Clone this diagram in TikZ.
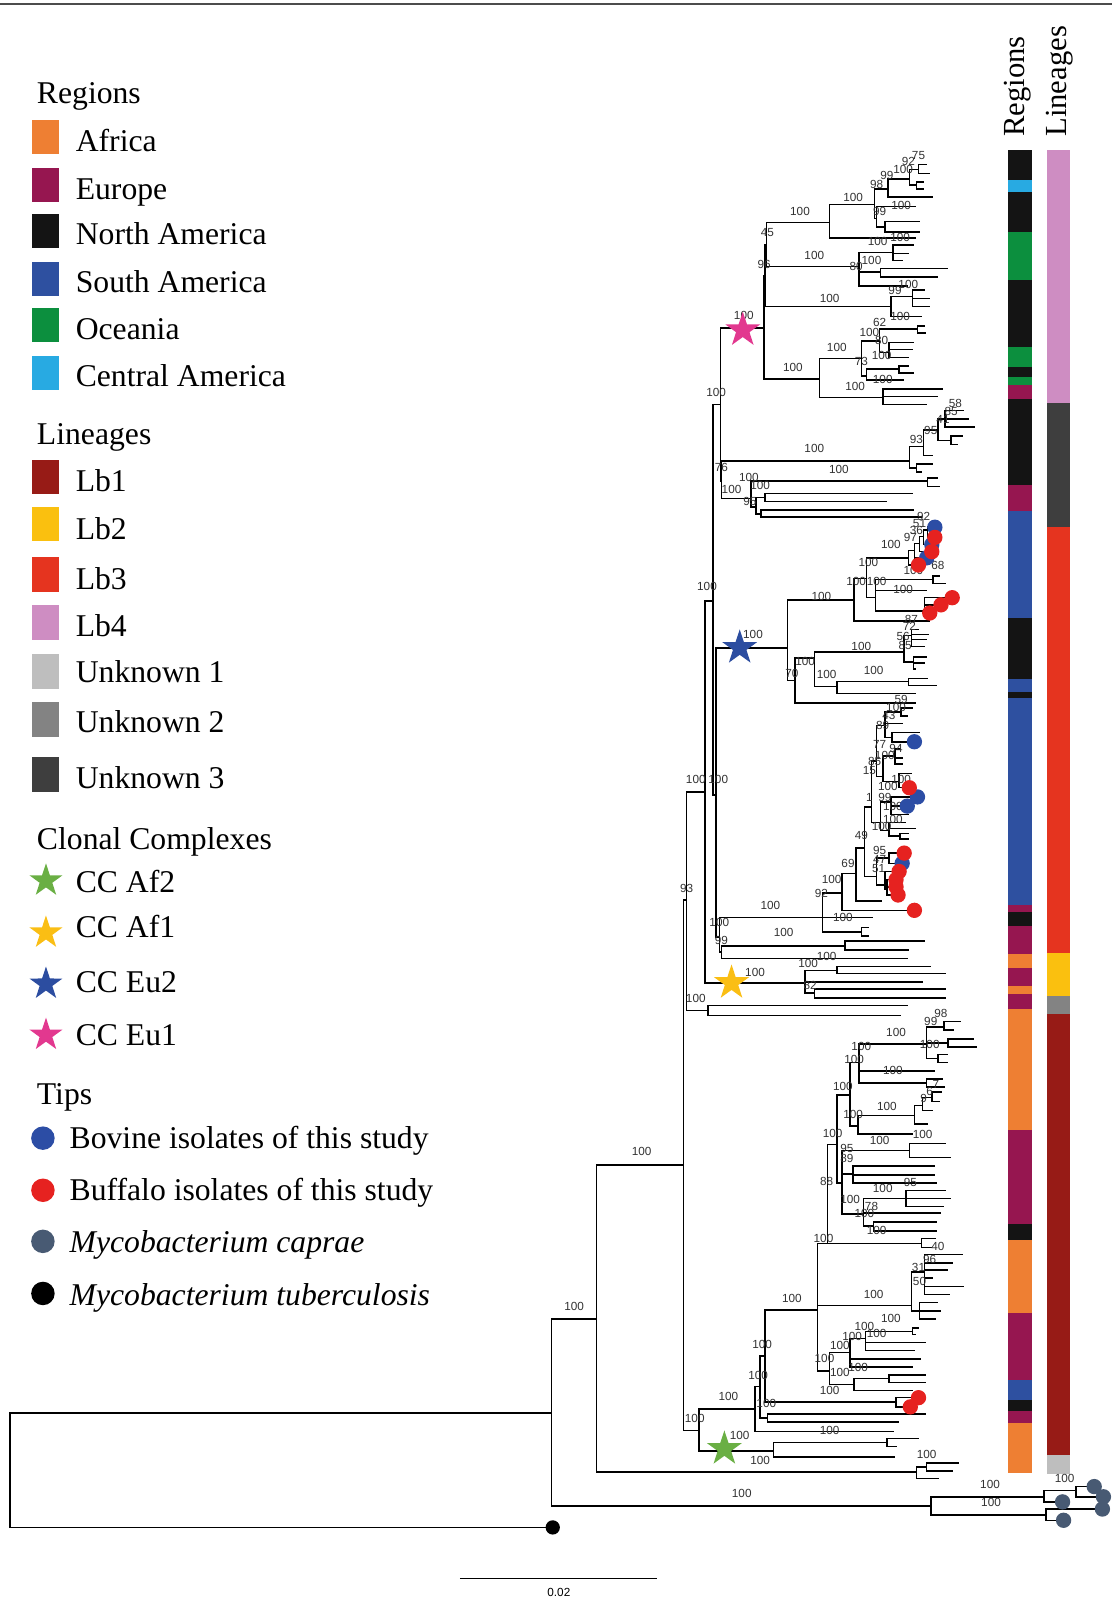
\documentclass[tikz,border=0pt]{standalone}
\usepackage{fontspec}
\setmainfont{Liberation Serif}
\setsansfont{Liberation Sans}
\usetikzlibrary{shapes.geometric}

\definecolor{afr}{RGB}{238,127,51}
\definecolor{eur}{RGB}{150,22,80}
\definecolor{nam}{RGB}{20,20,20}
\definecolor{sam}{RGB}{46,80,160}
\definecolor{oce}{RGB}{12,143,62}
\definecolor{cam}{RGB}{40,170,226}
\definecolor{lbone}{RGB}{151,27,22}
\definecolor{lbtwo}{RGB}{250,192,15}
\definecolor{lbthree}{RGB}{229,52,31}
\definecolor{lbfour}{RGB}{206,141,194}
\definecolor{unkone}{RGB}{190,190,190}
\definecolor{unktwo}{RGB}{131,131,131}
\definecolor{unkthree}{RGB}{62,62,62}
\definecolor{ccaftwo}{RGB}{106,175,68}
\definecolor{ccafone}{RGB}{250,190,20}
\definecolor{cceutwo}{RGB}{44,77,160}
\definecolor{cceuone}{RGB}{226,56,143}
\definecolor{bovine}{RGB}{44,77,165}
\definecolor{buffalo}{RGB}{230,34,32}
\definecolor{caprae}{RGB}{72,90,115}

\tikzset{
  branch/.style={line width=1.5pt},
  bs/.style={font=\sffamily\fontsize{11.5}{12}\selectfont, text=black!80, inner sep=0pt},
  lg/.style={font=\fontsize{31}{36}\selectfont, inner sep=0pt},
  bartitle/.style={font=\fontsize{30}{36}\selectfont, inner sep=0pt, rotate=90, anchor=base west},
  ccstar/.style={star, star points=5, star point ratio=2.6, inner sep=0pt, minimum size=#1},
  tipdot/.style={circle, inner sep=0pt, minimum size=#1},
}

\begin{document}
\begin{tikzpicture}[x=1pt,y=-1pt]
\useasboundingbox (0,0) rectangle (1088,1568);
\draw[black!70, line width=1.5pt] (0,4) -- (1088,4);

% legend
\node[lg, anchor=base west] (regtitle) at (36,101) {Regions};
\foreach \c/\y/\b/\t [count=\i] in {afr/134/148/Africa, eur/181/195/Europe,
    nam/226/239/North America, sam/273/286/South America, oce/318/332/Oceania,
    cam/365/378/Central America}
  { \fill[\c] (31,\y-17) rectangle (58,\y+17);
    \node[lg, anchor=base west] (reg\i) at (74,\b) {\t}; }
\node[lg, anchor=base west] (lintitle) at (36,435) {Lineages};
\foreach \c/\y/\b/\t [count=\i] in {lbone/467/481/Lb1, lbtwo/513/528/Lb2,
    lbthree/562/577/Lb3, lbfour/609/623/Lb4, unkone/657/668/Unknown 1,
    unktwo/704/717/Unknown 2, unkthree/758/772/Unknown 3}
  { \fill[\c] (31,\y-17) rectangle (58,\y+17);
    \node[lg, anchor=base west] (lin\i) at (74,\b) {\t}; }
\node[lg, anchor=base west] (cctitle) at (36,831) {Clonal Complexes};
\foreach \c/\y/\b/\t [count=\i] in {ccaftwo/862/874/CC Af2, ccafone/913/918/CC Af1,
    cceutwo/963/971/CC Eu2, cceuone/1013/1023/CC Eu1}
  { \node[ccstar=34pt, fill=\c] (ccs\i) at (45,\y) {};
    \node[lg, anchor=base west] (cc\i) at (74,\b) {\t}; }
\node[lg, anchor=base west] (tiptitle) at (36,1081) {Tips};
\node[tipdot=23pt, fill=bovine] (tipbov) at (42,1114) {};
\node[lg, anchor=base west] (bovtext) at (68,1124) {Bovine isolates of this study};
\node[tipdot=23pt, fill=buffalo] (tipbuf) at (42,1165) {};
\node[lg, anchor=base west] (buftext) at (68,1175) {Buffalo isolates of this study};
\node[tipdot=23pt, fill=caprae] (tipcap) at (42,1215) {};
\node[lg, anchor=base west] (captext) at (68,1226) {\itshape Mycobacterium caprae};
\node[tipdot=23pt, fill=black] (tipmtb) at (42,1266) {};
\node[lg, anchor=base west] (mtbtext) at (68,1278) {\itshape Mycobacterium tuberculosis};

% colour bars
\node[bartitle] (regbar) at (1003,134) {Regions};
\node[bartitle] (linbar) at (1044,134) {Lineages};
\foreach \a/\b/\c in {147/176/nam, 176/188/cam, 188/227/nam, 227/274/oce, 274/340/nam,
    340/359/oce, 359/369/nam, 369/377/oce, 377/391/eur, 391/475/nam, 475/500/eur,
    500/605/sam, 605/665/nam, 665/677/sam, 677/683/nam, 683/886/sam, 886/893/eur,
    893/906/nam, 906/934/eur, 934/947/afr, 947/965/eur, 965/973/afr, 973/988/eur,
    988/1106/afr, 1106/1198/eur, 1198/1214/nam, 1214/1285/afr, 1285/1351/eur,
    1351/1370/sam, 1370/1381/nam, 1381/1393/eur, 1393/1442/afr}
  \fill[\c] (987,\a) rectangle (1010,\b);
\foreach \a/\b/\c in {147/394/lbfour, 394/516/unkthree, 516/933/lbthree, 933/975/lbtwo,
    975/992/unktwo, 992/1424/lbone, 1424/1443/unkone}
  \fill[\c] (1025,\a) rectangle (1047,\b);

% tree: parent x/y, child x/y
\foreach \px/\py/\cx/\cy in {
  10/1439/540/1383, 10/1439/541/1495, 540/1383/584/1291, 540/1383/911/1474,
  911/1474/1022/1465, 911/1474/1024/1483, 1022/1465/1053/1459, 1022/1465/1040/1470,
  1053/1459/1071/1455, 1053/1459/1080/1465, 1024/1483/1079/1477, 1024/1483/1041/1488,
  584/1291/669/1140, 584/1291/897/1441, 897/1441/907/1436, 897/1441/919/1447,
  907/1436/939/1432, 907/1436/933/1440,
  669/1140/672/881, 669/1140/684/1400,
  684/1400/739/1379, 684/1400/757/1420, 757/1420/868/1412, 757/1420/876/1426,
  868/1412/899/1408, 868/1412/878/1416, 739/1379/744/1357, 739/1379/875/1401,
  744/1357/749/1327, 744/1357/751/1388, 751/1388/906/1384, 751/1388/880/1392,
  749/1327/800/1282, 749/1327/877/1372, 877/1372/899/1368, 877/1372/891/1377,
  800/1282/810/1217, 800/1282/892/1278, 800/1282/812/1342, 810/1217/819/1120,
  810/1217/902/1217, 902/1217/916/1212, 902/1217/912/1221,
  892/1278/905/1245, 892/1278/900/1283, 905/1245/943/1228, 905/1245/933/1236,
  905/1245/928/1243, 905/1245/913/1251, 905/1245/944/1259, 905/1245/930/1267,
  900/1283/918/1275, 900/1283/921/1283, 900/1283/916/1291,
  812/1342/832/1324, 812/1342/836/1355, 832/1324/847/1310, 832/1324/901/1330,
  832/1324/894/1338, 847/1310/893/1303, 847/1310/906/1314, 847/1310/896/1322,
  893/1303/899/1300, 893/1303/897/1306, 836/1355/870/1349, 836/1355/894/1361,
  870/1349/906/1346, 870/1349/906/1353,
  819/1120/832/1072, 819/1120/824/1158, 832/1072/841/1040, 832/1072/840/1102,
  841/1040/907/1022, 841/1040/915/1048, 841/1040/907/1060,
  907/1022/924/1005, 907/1022/928/1021, 907/1022/918/1036,
  924/1005/941/1000, 924/1005/934/1008, 928/1021/953/1017, 928/1021/956/1025,
  918/1036/928/1032, 918/1036/928/1040, 907/1060/923/1056, 907/1060/925/1064,
  840/1102/895/1092, 840/1102/894/1110, 895/1092/903/1082, 895/1092/908/1100,
  903/1082/912/1074, 903/1082/913/1087, 912/1074/922/1069, 912/1074/920/1078,
  824/1158/890/1126, 824/1158/835/1149, 824/1158/845/1188,
  890/1126/926/1119, 890/1126/931/1133, 835/1149/915/1141, 835/1149/915/1150,
  835/1149/917/1158, 845/1188/887/1173, 845/1188/921/1187, 845/1188/855/1200,
  887/1173/926/1165, 887/1173/931/1173, 887/1173/924/1181,
  855/1200/917/1196, 855/1200/917/1205,
  672/881/690/775, 672/881/693/989, 693/989/889/984, 693/989/882/994,
  690/775/698/588, 690/775/788/962,
  788/962/819/950, 788/962/903/961, 788/962/797/972, 819/950/911/946,
  819/950/926/953, 797/972/926/968, 797/972/926/977,
  698/588/705/396, 698/588/701/778,
  705/396/748/321, 705/396/706/471, 706/471/890/451, 706/471/735/488,
  890/451/904/437, 890/451/897/458, 904/437/918/421, 904/437/913/446,
  897/458/913/454, 897/458/902/462, 918/421/925/410, 918/421/931/431,
  925/410/944/402, 925/410/948/410, 925/410/954/418, 931/431/943/427, 931/431/938/435,
  735/488/908/471, 735/488/740/496, 908/471/918/468, 908/471/920/476,
  740/496/749/487, 740/496/745/503, 749/487/894/483, 749/487/868/491,
  745/503/895/499, 745/503/902/506,
  748/321/749/270, 748/321/802/371, 749/270/750/240, 749/270/872/300,
  750/240/812/218, 750/240/841/261, 812/218/856/200, 812/218/897/233,
  856/200/869/185, 856/200/858/214, 869/185/890/175, 869/185/913/193,
  890/175/899/166, 890/175/897/181, 899/166/907/161, 899/166/910/170,
  897/181/904/178, 897/181/904/185, 858/214/897/202, 858/214/866/222,
  866/222/900/217, 866/222/900/227,
  841/261/874/247, 841/261/862/266, 841/261/889/280,
  874/247/895/240, 874/247/890/248, 874/247/884/255, 862/266/928/263, 862/266/918/271,
  872/300/893/290, 872/300/902/310, 893/290/905/284, 893/290/910/292, 893/290/910/300,
  802/371/843/351, 802/371/864/389, 843/351/861/334, 843/351/848/368,
  861/334/898/322, 861/334/870/345, 898/322/905/319, 898/322/906/326,
  870/345/895/335, 870/345/894/342, 870/345/890/350,
  848/368/880/361, 848/368/885/372, 880/361/890/358, 880/361/895/365,
  864/389/923/381, 864/389/918/388, 864/389/907/396,
  701/778/771/634, 701/778/704/917, 704/917/805/898, 704/917/706/932,
  706/932/827/926, 706/932/889/938, 827/926/905/921, 827/926/890/930,
  805/898/824/874, 805/898/854/898, 805/898/843/912, 843/912/851/908, 843/912/851/916,
  824/874/838/855, 824/874/895/891, 838/855/846/830, 838/855/863/882,
  846/830/853/790, 846/830/858/858, 858/858/870/840, 858/858/866/866,
  870/840/885/835, 870/840/883/845, 866/866/880/853, 866/866/868/870,
  868/870/877/861, 868/870/877/868, 868/870/879/876,
  853/790/858/745, 853/790/862/805, 858/745/866/710, 858/745/864/760,
  866/710/882/697, 866/710/884/708, 866/710/873/722, 882/697/894/693, 882/697/889/701,
  873/722/900/717, 873/722/895/726, 864/760/876/740, 864/760/880/765,
  876/740/882/733, 876/740/884/742, 876/740/884/748, 880/765/893/757, 880/765/890/771,
  862/805/872/785, 862/805/870/813, 872/785/898/780, 872/785/888/789, 872/785/890/797,
  870/813/887/805, 870/813/897/811, 870/813/881/818, 881/818/890/816, 881/818/890/821,
  771/634/836/587, 771/634/778/666, 836/587/848/566, 836/587/910/608,
  848/566/889/546, 848/566/857/585, 889/546/899/553, 889/546/895/539,
  895/539/907/546, 895/539/900/532, 900/532/912/540, 900/532/904/525,
  904/525/912/533, 904/525/908/519, 908/519/915/526, 908/519/915/516,
  857/585/913/567, 857/585/907/578, 857/585/905/598, 913/567/920/564, 913/567/926/571,
  905/598/932/585, 905/598/921/592, 905/598/910/600,
  778/666/797/644, 778/666/897/688, 797/644/885/638, 797/644/819/672,
  885/638/892/622, 885/638/894/648, 892/622/899/616, 892/622/909/621,
  892/622/907/626, 892/622/905/633, 894/648/907/643, 894/648/905/649, 894/648/897/655,
  819/672/889/667, 819/672/897/679, 889/667/908/664, 889/667/917/671}
  \draw[branch] (\px,\py) |- (\cx,\cy);

% support values
\foreach \x/\y/\t [count=\i] in {
  562/1279/100, 628/1127/100, 726/1462/100, 969/1453/100, 970/1471/100, 1042/1447/100,
  907/1424/100,
  680/1388/100, 713/1367/100, 724/1405/100, 744/1429/100, 742/1346/100, 746/1316/100,
  750/1374/100, 812/1400/100, 775/1271/100, 855/1267/100, 872/1290/100, 846/1298/100,
  834/1308/100, 858/1305/100, 822/1317/100, 807/1330/100, 840/1338/100, 822/1343/100,
  812/1361/100, 806/1212/100, 918/1220/40, 910/1233/96, 899/1241/31, 900/1254/50,
  815/1109/100, 825/1063/100, 843/1024/100, 836/1037/100, 877/1011/100, 921/992/98,
  911/1000/99, 910/1022/100, 874/1048/100, 916/1061/7, 910/1068/6, 904/1075/9,
  868/1083/100, 835/1091/100, 903/1110/100, 861/1116/100, 829/1124/95, 829/1134/89,
  809/1156/88, 864/1163/100, 891/1157/95, 832/1174/100, 853/1181/78, 846/1188/100,
  858/1204/100, 681/977/100, 739/952/100, 791/943/100, 809/936/100, 793/965/82,
  672/870/93, 681/763/100, 703/763/100, 692/574/100, 701/384/100, 706/458/76,
  797/439/100, 821/459/100, 897/430/93, 911/421/95, 923/411/41, 931/403/85, 935/395/58,
  733/467/100, 716/479/100, 744/475/100, 734/491/95,
  728/309/100, 751/228/45, 748/259/96, 783/207/100, 797/250/100, 812/292/100,
  776/360/100, 835/193/100, 868/172/99, 858/181/98, 884/166/100, 889/158/92, 899/152/75,
  882/201/100, 861/207/99, 859/236/100, 881/232/100, 838/261/80, 853/255/100,
  889/278/100, 876/284/99, 881/310/100, 861/316/62, 851/325/100, 863/333/80,
  863/348/100, 843/354/73, 819/340/100, 837/378/100, 864/371/100,
  904/505/92, 900/512/51, 897/519/36, 891/526/97, 872/533/100, 850/551/100,
  838/569/100, 858/569/100, 884/577/100, 918/553/68, 894/558/100,
  892/606/87, 890/613/72, 884/623/56, 886/632/85, 843/633/100, 788/647/100,
  775/659/70, 809/660/100, 855/656/100, 737/621/100, 804/584/100,
  882/685/59, 877/692/100, 870/700/43, 864/710/89, 861/729/77, 877/733/94,
  866/739/100, 856/745/85, 851/754/15, 882/763/100, 869/770/100, 851/781/1,
  866/781/99, 874/789/100, 874/802/100, 863/809/100, 843/818/49, 861/832/95,
  861/841/47, 860/850/51, 830/845/69, 814/861/100, 804/874/92, 754/886/100,
  704/903/100, 825/898/100, 767/913/100, 706/920/99}
  \node[bs] (bs\i) at (\x,\y) {\t};

% tips of this study and outgroups
\foreach \x/\y [count=\i] in {915/516, 912/533, 907/546, 895/726, 898/780, 888/789, 883/845}
  \node[tipdot=15pt, fill=bovine] (bov\i) at (\x,\y) {};
\foreach \x/\y [count=\i] in {915/526, 912/540, 899/553, 932/585, 921/592, 910/600,
    890/771, 885/835, 880/853, 877/861, 877/868, 879/876, 895/891, 899/1368, 891/1377}
  \node[tipdot=15pt, fill=buffalo] (buf\i) at (\x,\y) {};
\foreach \x/\y [count=\i] in {1071/1455, 1080/1465, 1040/1470, 1079/1477, 1041/1488}
  \node[tipdot=15pt, fill=caprae] (cap\i) at (\x,\y) {};
\node[tipdot=14pt, fill=black] (mtb) at (541,1495) {};

% clonal complexes
\node[ccstar=36pt, fill=cceuone] (eu1) at (727,323) {};
\node[ccstar=36pt, fill=cceutwo] (eu2) at (724,634) {};
\node[ccstar=36pt, fill=ccafone] (af1) at (716,962) {};
\node[ccstar=36pt, fill=ccaftwo] (af2) at (709,1418) {};

% scale
\draw[line width=1.4pt] (450,1545) -- (643,1545);
\node[bs, text=black] (scalelab) at (547,1559) {0.02};
\end{tikzpicture}
\end{document}
